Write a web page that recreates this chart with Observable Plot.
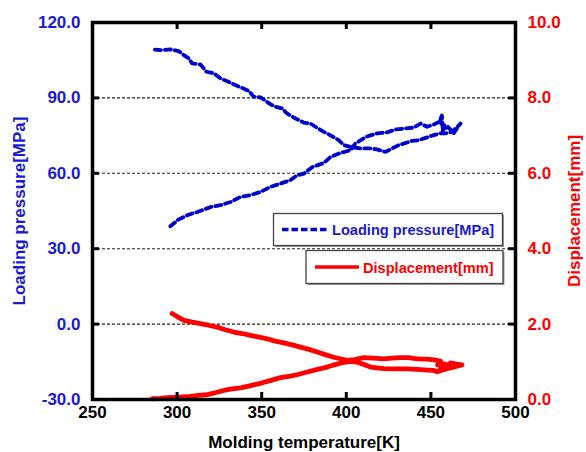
<!DOCTYPE html>
<html><head><meta charset="utf-8">
<script src="https://cdn.jsdelivr.net/npm/d3@7"></script>
<script src="https://cdn.jsdelivr.net/npm/@observablehq/plot@0.6"></script>
<style>
html,body{margin:0;padding:0;background:#fff;}
#wrap{position:relative;width:586px;height:452px;overflow:hidden;}
#legend{position:absolute;left:0;top:0;pointer-events:none;}
</style></head><body><div id="wrap"></div>
<script>
// ---- tick values ----
const xTicks = [250, 300, 350, 400, 450, 500];
const yTicksLeft = [-30, 0, 30, 60, 90, 120];
const yTicksRight = [0, 2, 4, 6, 8, 10];
const gridLines = [0, 30, 60, 90];
const seriesNames = ["Loading pressure[MPa]", "Displacement[mm]"];
const xTitle = "Molding temperature[K]";

// ---- Loading pressure [MPa] vs temperature [K] (in path order) ----
const pressureTemp = [296,298,300,303,306,309,312,316,320,325.6,331.6,337.5,343.4,349.3,355.2,361.1,367,371,375,380,386.7,390.7,396.6,402.5,405.4,412,418.2,424,429,434,439.9,443.9,447.8,452,455,456.5,457,455.5,458,457,460,463.5,467.5,
  462.6,458.6,455.7,451.7,447.8,442.9,438.9,431,427.1,423.2,418.2,414.3,408.4,402.5,398.5,395.5,389.6,386.7,382.7,378.8,374.8,368.9,365,362,357.1,353.2,349.3,345.3,342.4,337.5,331.6,325.6,321.7,317.4,313.8,308.9,306.9,304,301,296.1,290.2,285.3];
const pressureVal = [38.9,40,41.3,42.3,43.3,44,44.6,45.6,46.6,47.3,48.6,50.6,51.3,52.6,54.6,55.9,57.3,59.2,59.9,62.5,64.1,66.5,68.1,69.2,71.9,74.6,75.9,76.3,77.4,77.8,78.2,79.8,78.5,79.5,80.5,83,78,81,79.5,77,78.5,76,79.8,
  76.5,75.9,75.9,75.2,74.3,73.2,72.9,71.2,69.9,68.5,69.5,69.9,69.9,70.5,71.2,73.2,75.5,76.5,78.1,79.8,80.2,82.2,83.8,85.8,86.7,88.4,90.2,90.4,92.8,94.2,96,97.8,99.8,100.4,103.3,103.7,105.7,107,108.6,109.3,109,109.3];

// ---- Displacement [mm] vs temperature [K] (in path order) ----
const dispTemp = [297.1,300,304,309,313.8,318.5,323.7,328.5,333.5,338.5,343.4,348,353.2,358,363.1,368,372.9,378,382.8,387.5,392.6,396.5,400.5,405,410.4,416,422.2,427,432,437,441.9,447.8,452,455.7,454,456.7,458,455.5,457.5,461.6,465,468.4,
  458,453.7,451.7,447.8,441.9,436,432,427,422.2,418,414.3,410.5,406.4,402,398,393,388.7,383,376.9,372,367,361.1,355,349.3,343.5,337.5,332.5,327.6,322.5,317.8,312.5,307.9,301,294.1,290,285.3];
const dispVal = [2.28,2.2,2.1,2.05,2.01,1.97,1.92,1.85,1.79,1.75,1.7,1.66,1.61,1.55,1.5,1.45,1.39,1.33,1.26,1.19,1.12,1.08,1.04,1.06,1.11,1.1,1.08,1.1,1.11,1.11,1.08,1.07,1.05,1.02,0.92,0.88,0.95,0.8,0.85,0.97,0.94,0.92,
  0.8,0.74,0.77,0.78,0.8,0.81,0.81,0.81,0.82,0.84,0.86,0.93,0.99,1.01,0.98,0.92,0.86,0.8,0.73,0.67,0.62,0.58,0.5,0.43,0.37,0.31,0.28,0.24,0.18,0.13,0.11,0.08,0.06,0.05,0.03,0.02];

// ---- colours ----
const blueData = "#0000cd", blueText = "#1a1ad2", red = "#ff0000";

// right axis (0..10 mm) shares the left axis range (-30..120 MPa)
const toLeft = d => d * 15 - 30;
const fromLeft = v => (v + 30) / 15;

const W = 586, H = 452, mL = 92, mR = 71, mT = 22, mB = 53;
const innerW = W - mL - mR, innerH = H - mT - mB;

const pData = pressureTemp.map((t, i) => ({t, v: pressureVal[i]}));
const dData = dispTemp.map((t, i) => ({t, v: dispVal[i]}));

const plot = Plot.plot({
  width: W, height: H,
  marginLeft: mL, marginRight: mR, marginTop: mT, marginBottom: mB,
  style: {fontFamily: "'Liberation Sans', Arial, sans-serif", fontSize: "17px", fontWeight: "bold", background: "white", overflow: "visible"},
  x: {domain: [250, 500]},
  y: {domain: [-30, 120]},
  marks: [
    Plot.ruleY(gridLines, {y: d => d, stroke: "#222", strokeWidth: 1.1, strokeDasharray: "3,2"}),
    Plot.line(dData, {x: "t", y: d => toLeft(d.v), stroke: red, strokeWidth: 4.8}),
    Plot.line(pData, {x: "t", y: "v", stroke: blueData, strokeWidth: 3.8, strokeDasharray: "6,4"}),
    Plot.frame({stroke: "black", strokeWidth: 3.5}),
    Plot.tickX(xTicks, {x: d => d, stroke: "black", strokeWidth: 3, insetTop: innerH - 7}),
    Plot.tickX(xTicks, {x: d => d, stroke: "black", strokeWidth: 3, insetBottom: innerH - 7}),
    Plot.tickY(yTicksLeft, {y: d => d, stroke: "black", strokeWidth: 3, insetRight: innerW - 7}),
    Plot.tickY(yTicksRight.map(toLeft), {y: d => d, stroke: "black", strokeWidth: 3, insetLeft: innerW - 7}),
    Plot.axisX(xTicks, {anchor: "bottom", tickSize: 0, tickPadding: 6, tickFormat: d => String(d), fill: "black",
      label: xTitle, labelAnchor: "center", labelOffset: 48, labelArrow: "none"}),
    Plot.axisY(yTicksLeft, {anchor: "left", tickSize: 0, tickPadding: 12, tickFormat: d => d.toFixed(1), fill: blueText,
      label: seriesNames[0], labelAnchor: "center", labelOffset: 80, labelArrow: "none"}),
    Plot.axisY(yTicksRight.map(toLeft), {anchor: "right", tickSize: 0, tickPadding: 12, tickFormat: v => fromLeft(v).toFixed(1), fill: red,
      label: seriesNames[1], labelAnchor: "center", labelOffset: 64, labelArrow: "none"})
  ]
});

const wrap = document.getElementById("wrap");
wrap.appendChild(plot);

// ---- legend (inside the plot area) ----
const NS = "http://www.w3.org/2000/svg";
const lg = document.createElementNS(NS, "svg");
lg.setAttribute("id", "legend");
lg.setAttribute("width", W); lg.setAttribute("height", H);
lg.style.fontFamily = "'Liberation Sans', Arial, sans-serif";
lg.style.fontWeight = "bold";
lg.style.fontSize = "14.6px";
function el(tag, attrs, text) {
  const e = document.createElementNS(NS, tag);
  for (const k in attrs) e.setAttribute(k, attrs[k]);
  if (text != null) e.textContent = text;
  lg.appendChild(e);
  return e;
}
const boxes = [
  {x: 273.5, y: 213.5, w: 229, h: 32, lx1: 282, lx2: 328, ly: 229.5, tx: 332, ty: 235, color: blueData, tcolor: blueText, dash: "6.5,3"},
  {x: 306, y: 250.5, w: 197, h: 33, lx1: 315, lx2: 359, ly: 267, tx: 363, ty: 272.5, color: red, tcolor: red, dash: null}
];
boxes.forEach((b, i) => {
  el("rect", {x: b.x + 1.5, y: b.y + 1.5, width: b.w, height: b.h, fill: "#9a9a9a"});
  el("rect", {x: b.x, y: b.y, width: b.w, height: b.h, fill: "white", stroke: "#444", "stroke-width": 1.3});
  const ln = el("line", {x1: b.lx1, x2: b.lx2, y1: b.ly, y2: b.ly, stroke: b.color, "stroke-width": 3.5});
  if (b.dash) ln.setAttribute("stroke-dasharray", b.dash);
  el("text", {x: b.tx, y: b.ty, fill: b.tcolor}, seriesNames[i]);
});
wrap.appendChild(lg);
</script>
</body></html>
